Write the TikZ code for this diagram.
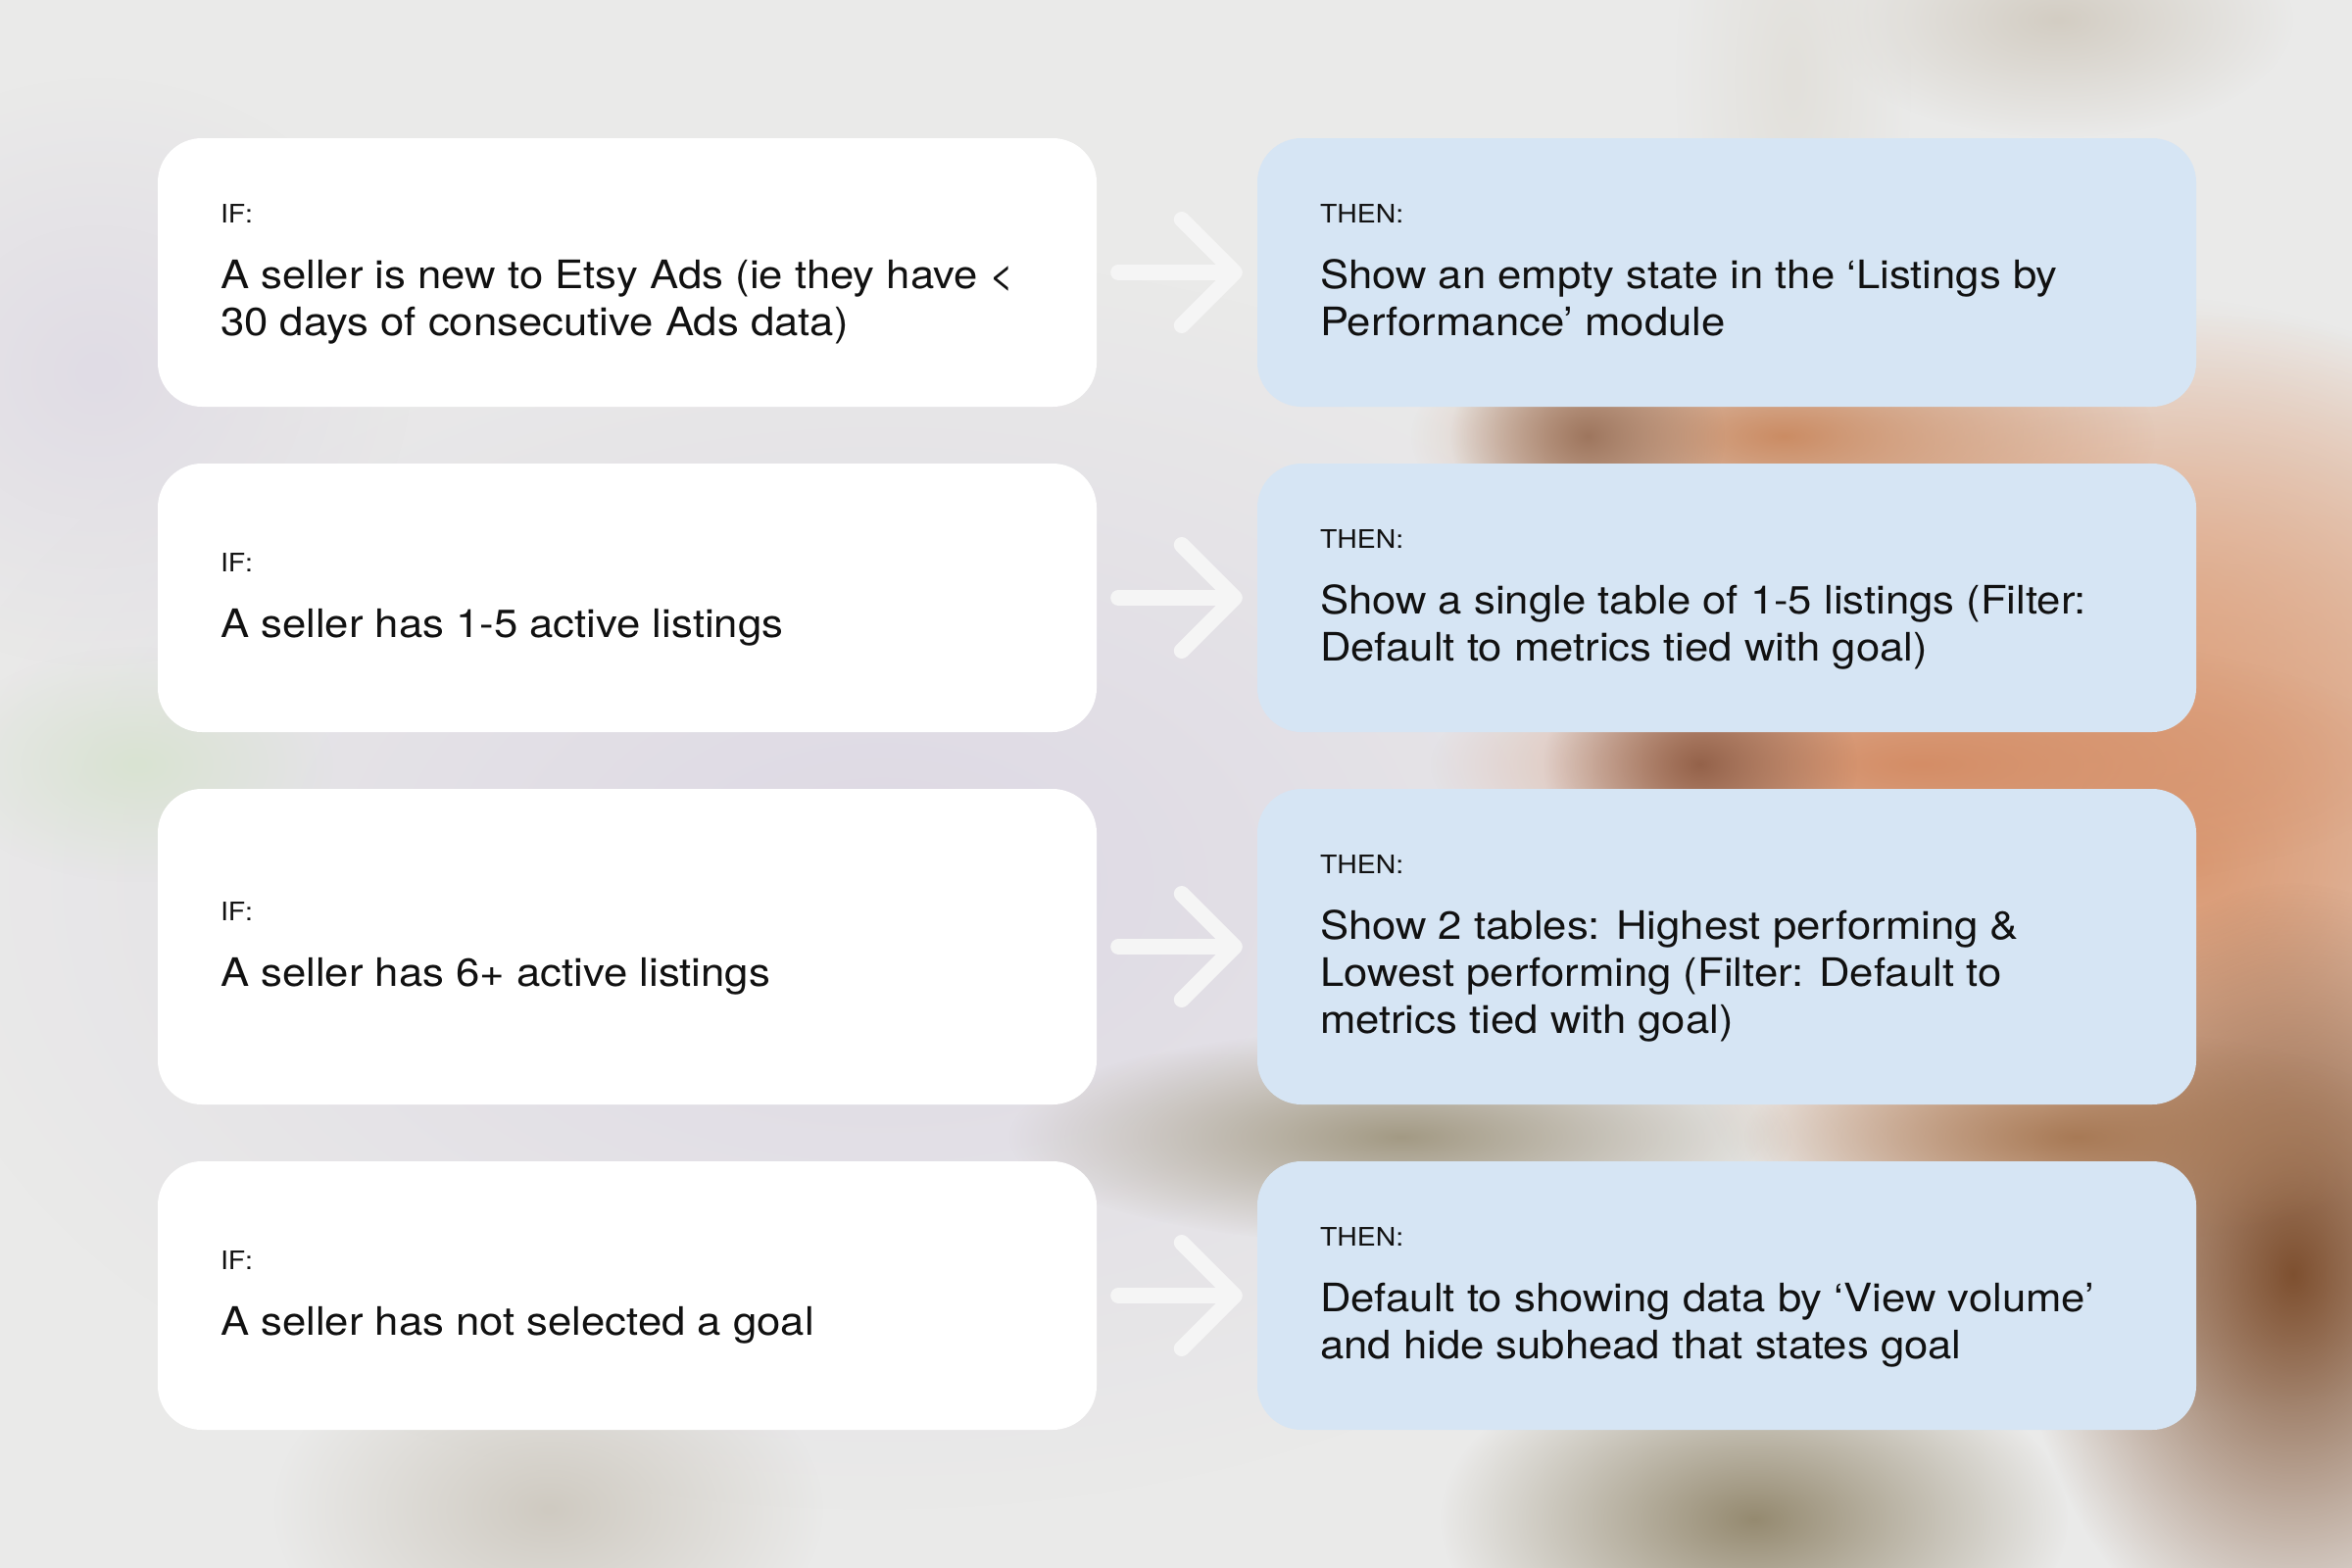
\documentclass[tikz,border=0pt]{standalone}
\usepackage{fontspec}
\setmainfont{TeX Gyre Heros}[FakeStretch=1.092]
\usetikzlibrary{fadings,arrows.meta}
\tikzfading[name=fuzzy, inner color=transparent!0, outer color=transparent!100]
\definecolor{bgbase}{HTML}{EAEAE9}
\definecolor{bluebox}{HTML}{D6E5F4}
\definecolor{ink}{HTML}{111111}
\definecolor{arrowc}{HTML}{F5F5F5}
\definecolor{lavA}{HTML}{DDD8E4}
\definecolor{lavB}{HTML}{E0DCE5}
\definecolor{greenA}{HTML}{D9E3D2}
\definecolor{beigeA}{HTML}{D3CDC3}
\definecolor{greyA}{HTML}{E2E0DB}
\definecolor{greyB}{HTML}{CFCAC1}
\definecolor{peachA}{HTML}{E4B598}
\definecolor{peachB}{HTML}{DA9A74}
\definecolor{orangeA}{HTML}{CB8C64}
\definecolor{brownA}{HTML}{9E765E}
\definecolor{orangeB}{HTML}{D48D66}
\definecolor{brownB}{HTML}{94624A}
\definecolor{brownC}{HTML}{7E5030}
\definecolor{brownD}{HTML}{A87A56}
\definecolor{oliveA}{HTML}{A39A84}
\definecolor{oliveB}{HTML}{958A70}
\newcommand\blob[5]{\fill[#5, path fading=fuzzy] (#1,#2) ellipse [x radius=2*#3, y radius=2*#4];}
\newcommand\cardtext[2]{\vtop{\hsize=900pt\parindent=0pt\parskip=0pt\raggedright
  {\fontsize{26}{30}\selectfont #1\par}\vspace{19pt}{\fontsize{40}{48}\selectfont #2\par}}}
\tikzset{
  card/.style={rounded corners=45pt, minimum width=958pt, inner sep=0pt, draw=none},
  ifcard/.style={card, fill=white},
  thencard/.style={card, fill=bluebox},
  cardtxt/.style={anchor=base west, inner sep=0pt, text=ink},
  flow/.style={arrowc, line width=16pt, line cap=round, line join=round,
    -{Straight Barb[length=54pt, width=108pt, round]}}
}
\begin{document}
\begin{tikzpicture}[x=1pt, y=-1pt]
\useasboundingbox (0,0) rectangle (2400,1600);
\fill[bgbase] (0,0) rectangle (2400,1600);
% blurred background photo
\blob{900}{900}{500}{320}{lavA}
\blob{100}{380}{160}{150}{lavB}
\blob{140}{780}{100}{60}{greenA}
\blob{2100}{20}{120}{60}{beigeA}
\blob{1830}{80}{60}{160}{greyA}
\blob{560}{1540}{140}{90}{greyB}
\blob{2160}{660}{270}{180}{peachA}
\blob{2240}{880}{280}{280}{peachB}
\blob{1820}{445}{190}{70}{orangeA}
\blob{1620}{445}{70}{55}{brownA}
\blob{1960}{780}{250}{70}{orangeB}
\blob{1735}{780}{80}{60}{brownB}
\blob{2340}{1300}{140}{200}{brownC}
\blob{2120}{1160}{170}{55}{brownD}
\blob{1430}{1160}{200}{55}{oliveA}
\blob{1790}{1550}{160}{90}{oliveB}
% cards
\node[ifcard, minimum height=274pt] (if1) at (640,278) {};
\node[ifcard, minimum height=274pt] (if2) at (640,610) {};
\node[ifcard, minimum height=322pt] (if3) at (640,966) {};
\node[ifcard, minimum height=274pt] (if4) at (640,1322) {};
\node[thencard, minimum height=274pt] (then1) at (1762,278) {};
\node[thencard, minimum height=274pt] (then2) at (1762,610) {};
\node[thencard, minimum height=322pt] (then3) at (1762,966) {};
\node[thencard, minimum height=274pt] (then4) at (1762,1322) {};
% texts
\node[cardtxt] (ift1) at ([xshift=64pt, yshift=51pt]if1.west) {\cardtext{IF:}{A seller is new to Etsy Ads (ie they have <\\30 days of consecutive Ads data)}};
\node[cardtxt] (ift2) at ([xshift=64pt, yshift=27pt]if2.west) {\cardtext{IF:}{A seller has 1-5 active listings}};
\node[cardtxt] (ift3) at ([xshift=64pt, yshift=27pt]if3.west) {\cardtext{IF:}{A seller has 6+ active listings}};
\node[cardtxt] (ift4) at ([xshift=64pt, yshift=27pt]if4.west) {\cardtext{IF:}{A seller has not selected a goal}};
\node[cardtxt] (tht1) at ([xshift=64pt, yshift=51pt]then1.west) {\cardtext{THEN:}{Show an empty state in the ‘Listings by\\Performance’ module}};
\node[cardtxt] (tht2) at ([xshift=64pt, yshift=51pt]then2.west) {\cardtext{THEN:}{Show a single table of 1-5 listings (Filter:\\Default to metrics tied with goal)}};
\node[cardtxt] (tht3) at ([xshift=64pt, yshift=75pt]then3.west) {\cardtext{THEN:}{Show 2 tables: Highest performing \&\\Lowest performing (Filter: Default to\\metrics tied with goal)}};
\node[cardtxt] (tht4) at ([xshift=64pt, yshift=51pt]then4.west) {\cardtext{THEN:}{Default to showing data by ‘View volume’\\and hide subhead that states goal}};
% arrows
\foreach \i in {1,2,3,4}{
  \draw[flow] ([xshift=22pt]if\i.east) -- ([xshift=-15pt]then\i.west);
}
\end{tikzpicture}
\end{document}
